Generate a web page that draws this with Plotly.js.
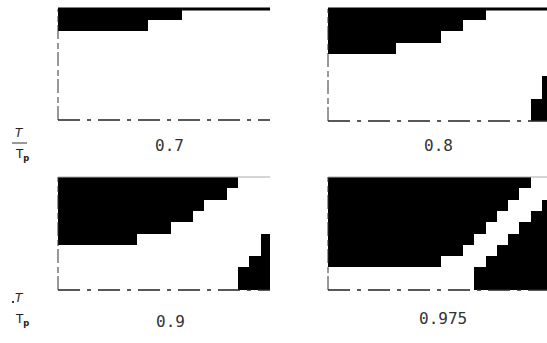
<!DOCTYPE html>
<html>
<head>
<meta charset="utf-8">
<script src="https://cdn.plot.ly/plotly-3.0.1.min.js"></script>
<style>html,body{margin:0;padding:0;background:#fff;}#chart{width:547px;height:343px;}</style>
</head>
<body>
<div id="chart"></div>
<script>
// ---- data (black rows counted from top / from bottom per column) ----
const nCols = 20;
const nRows = 10;
const panelLabels = ['0.7', '0.8', '0.9', '0.975'];
const topBlack07   = [2,2,2,2,2,2,2,2,1,1,1,0,0,0,0,0,0,0,0,0];
const botBlack07   = [0,0,0,0,0,0,0,0,0,0,0,0,0,0,0,0,0,0,0,0];
const topBlack08   = [4,4,4,4,4,4,3,3,3,3,2,2,1,1,0,0,0,0,0,0];
const botBlack08   = [0,0,0,0,0,0,0,0,0,0,0,0,0,0,0,0,0,0,2,4];
const topBlack09   = [6,6,6,6,6,6,6,5,5,5,4,4,3,2,2,1,0,0,0,0];
const botBlack09   = [0,0,0,0,0,0,0,0,0,0,0,0,0,0,0,0,2,3,5,6];
const topBlack0975 = [8,8,8,8,8,8,8,8,8,8,7,7,6,5,4,3,2,1,0,0];
const botBlack0975 = [0,0,0,0,0,0,0,0,0,0,0,0,0,2,3,4,5,6,7,8];
const yLabel = 'T';
const yLabelSub = 'p';

const tops = [topBlack07, topBlack08, topBlack09, topBlack0975];
const bots = [botBlack07, botBlack08, botBlack09, botBlack0975];

function buildZ(top, bot) {
  const z = [];
  for (let r = 0; r < nRows; r++) {
    const row = [];
    for (let c = 0; c < nCols; c++) {
      row.push((r < top[c] || r >= nRows - bot[c]) ? 1 : 0);
    }
    z.push(row);
  }
  return z;
}
const xc = Array.from({length: nCols}, (_, i) => i + 0.5);
const yc = Array.from({length: nRows}, (_, i) => i + 0.5);

const W = 547, H = 343;
// panel pixel boxes [left, right, top, bottom]
const boxes = [[58, 270, 9, 120], [328, 547, 9, 121], [58, 270, 177, 290], [328, 547, 177, 290]];
const labelPos = [[169, 146], [438, 146], [170, 321], [443, 318]];
const cellW = 11.25;

const traces = [];
const layout = {
  width: W, height: H,
  margin: {l: 0, r: 0, t: 0, b: 0},
  paper_bgcolor: '#fff', plot_bgcolor: '#fff',
  showlegend: false,
  shapes: [], annotations: []
};
boxes.forEach((b, i) => {
  const sx = i === 0 ? '' : String(i + 1);
  traces.push({
    type: 'heatmap', x: xc, y: yc, z: buildZ(tops[i], bots[i]),
    xaxis: 'x' + sx, yaxis: 'y' + sx,
    colorscale: [[0, '#ffffff'], [1, '#000000']], zmin: 0, zmax: 1,
    showscale: false, hoverinfo: 'skip', xgap: 0, ygap: 0
  });
  const xr = (b[1] - b[0]) / cellW;
  layout['xaxis' + sx] = {
    domain: [b[0] / W, b[1] / W], range: [0, xr], anchor: 'y' + sx,
    showticklabels: false, showgrid: false, zeroline: false, showline: false, ticks: '', fixedrange: true
  };
  layout['yaxis' + sx] = {
    domain: [1 - b[3] / H, 1 - b[2] / H], range: [nRows, 0], anchor: 'x' + sx,
    showticklabels: false, showgrid: false, zeroline: false, showline: false, ticks: '', fixedrange: true
  };
  const xd = 'x' + sx + ' domain', yd = 'y' + sx + ' domain';
  // left dashed axis
  layout.shapes.push({type: 'line', xref: xd, yref: yd, x0: 0, x1: 0, y0: 0, y1: 1,
    line: {color: '#333', width: 1, dash: '14px,3px,6px,4px'}});
  // bottom dashed axis
  layout.shapes.push({type: 'line', xref: xd, yref: yd, x0: 0, x1: 1, y0: 0, y1: 0,
    line: {color: '#222', width: 1.5, dash: '22px,7px,4px,7px'}});
  // top frame
  layout.shapes.push({type: 'line', xref: xd, yref: yd, x0: 0, x1: 1, y0: 1, y1: 1,
    line: {color: i < 2 ? '#000' : '#aaa', width: i < 2 ? 3 : 1}});
  // panel label
  layout.annotations.push({xref: 'paper', yref: 'paper', x: labelPos[i][0] / W, y: 1 - labelPos[i][1] / H,
    text: panelLabels[i], showarrow: false, xanchor: 'center', yanchor: 'middle',
    font: {family: 'DejaVu Sans Mono', size: 16, color: '#333'}});
});

// left T/Tp labels
[[133, 155, true], [298, 320, false]].forEach(([yt, yb, bar]) => {
  layout.annotations.push({xref: 'paper', yref: 'paper', x: 19 / W, y: 1 - yt / H,
    text: '<i>' + yLabel + '</i>', showarrow: false, xanchor: 'center', yanchor: 'middle',
    font: {family: 'DejaVu Sans', size: 12, color: '#222'}});
  layout.annotations.push({xref: 'paper', yref: 'paper', x: 22 / W, y: 1 - yb / H,
    text: yLabel + '<sub><b>' + yLabelSub + '</b></sub>', showarrow: false, xanchor: 'center', yanchor: 'middle',
    font: {family: 'DejaVu Sans', size: 12, color: '#222'}});
  if (bar) {
    layout.shapes.push({type: 'line', xref: 'paper', yref: 'paper', x0: 12 / W, x1: 27 / W,
      y0: 1 - 143 / H, y1: 1 - 143 / H, line: {color: '#333', width: 1}});
  } else {
    layout.shapes.push({type: 'line', xref: 'paper', yref: 'paper', x0: 12 / W, x1: 14 / W,
      y0: 1 - 302 / H, y1: 1 - 302 / H, line: {color: '#333', width: 2}});
  }
});

Plotly.newPlot('chart', traces, layout, {staticPlot: true, displayModeBar: false});
</script>
</body>
</html>
